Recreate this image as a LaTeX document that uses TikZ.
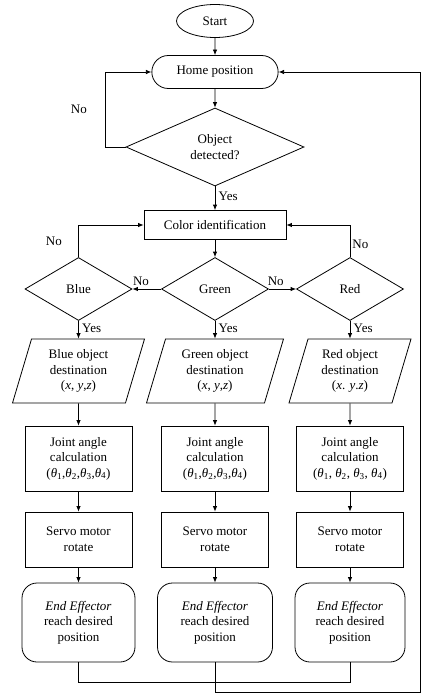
\documentclass[tikz,border=0pt]{standalone}
\usepackage{fontspec}
\setmainfont{Liberation Serif}
\usepackage{tikz}
\usetikzlibrary{arrows,arrows.meta}
\usetikzlibrary{positioning}
\usetikzlibrary{shapes.geometric,shapes.misc}

\newcommand{\tht}[1]{\textit{θ}\textsubscript{#1}}
\newcommand{\xyz}[1]{(\textit{x}#1 \textit{y}#1\textit{z})}

\begin{document}
\begin{tikzpicture}[-,>={Latex[length=5.5pt,width=4.5pt]},line width=0.8pt,
                    every node/.style={font=\rmfamily\fontsize{13}{15.5}\selectfont,align=center},
                    start node/.style={ellipse,draw,minimum width=77pt,minimum height=33pt},
                    home node/.style={rounded rectangle,draw,minimum width=133pt,minimum height=33pt},
                    box node/.style={rectangle,draw,minimum width=107pt},
                    dec node/.style={diamond,draw,inner sep=0pt,minimum width=107pt,minimum height=63pt},
                    io node/.style={trapezium,trapezium left angle=67,trapezium right angle=113,
                                    trapezium stretches body,draw,inner sep=1pt,minimum height=64pt},
                    end node/.style={rectangle,rounded corners=15pt,draw,
                                     minimum width=113pt,minimum height=79pt}]

  \useasboundingbox (0,0) rectangle (429pt,-699pt);

  \node[start node] (start) at (215pt,-21pt) {Start};
  \node[home node] (home) [below of=start,node distance=51pt] {Home position};
  \node[dec node,minimum width=178pt,minimum height=78pt] (detect) [below of=home,node distance=75pt] {Object\\detected?};
  \node[box node,minimum width=142pt,minimum height=29pt] (color) [below of=detect,node distance=78pt] {Color identification};

  \node[dec node] (green) [below of=color,node distance=64pt] {Green};
  \node[dec node] (blue) [left of=green,node distance=136.5pt] {Blue};
  \node[dec node] (red) [right of=green,node distance=135pt] {Red};

  \node[io node,minimum width=132pt] (bdest) [below of=blue,node distance=82pt] {Blue object\\destination\\\xyz{,}};
  \node[io node,minimum width=137pt] (gdest) [below of=green,node distance=82pt] {Green object\\destination\\\xyz{,}};
  \node[io node,minimum width=122pt] (rdest) [below of=red,node distance=82pt] {Red object\\destination\\\xyz{.}};

  \node[box node,minimum height=65pt] (bjoint) [below of=bdest,node distance=87.5pt] {Joint angle\\calculation\\(\tht1,\tht2,\tht3,\tht4)};
  \node[box node,minimum height=65pt] (gjoint) [below of=gdest,node distance=87.5pt] {Joint angle\\calculation\\(\tht1,\tht2,\tht3,\tht4)};
  \node[box node,minimum height=65pt] (rjoint) [below of=rdest,node distance=87.5pt] {Joint angle\\calculation\\(\tht1, \tht2, \tht3, \tht4)};

  \node[box node,minimum height=55pt] (bservo) [below of=bjoint,node distance=81pt] {Servo motor\\rotate};
  \node[box node,minimum height=55pt] (gservo) [below of=gjoint,node distance=81pt] {Servo motor\\rotate};
  \node[box node,minimum height=55pt] (rservo) [below of=rjoint,node distance=81pt] {Servo motor\\rotate};

  \node[end node] (bend) [below of=bservo,node distance=83pt] {\textit{End Effector}\\reach desired\\position};
  \node[end node,minimum width=115pt] (gend) [below of=gservo,node distance=83pt] {\textit{End Effector}\\reach desired\\position};
  \node[end node,minimum width=110pt] (rend) [below of=rservo,node distance=83pt] {\textit{End Effector}\\reach desired\\position};

  \coordinate (back) at (420pt,-692pt);

  \path[->]
    (start) edge (home)
    (home) edge (detect)
    (detect) edge node [right,pos=0.4] {Yes} (color)
    (color) edge (green)
    (green) edge node [above,pos=0.7] {No} (blue)
            edge node [above,pos=0.25] {No} (red)
    (blue) edge node [right,pos=0.4] {Yes} (bdest)
    (green) edge node [right,pos=0.4] {Yes} (gdest)
    (red) edge node [right,pos=0.4] {Yes} (rdest)
    (bdest) edge (bjoint)
    (gdest) edge (gjoint)
    (rdest) edge (rjoint)
    (bjoint) edge (bservo)
    (gjoint) edge (gservo)
    (rjoint) edge (rservo)
    (bservo) edge (bend)
    (gservo) edge (gend)
    (rservo) edge (rend)
;

  % loops back
  \draw[->] (detect.west) -- ++(-20pt,0) |- node [left=15pt,pos=0.25] {No} (home.west);
  \draw[->] (blue.north) |- node [left=13pt,pos=0.25] {No} (color.west);
  \draw[->] (red.north) |- node [right,pos=0.2,inner sep=2pt] {No} (color.east);
  \draw (bend.south) -- ++(0,-20pt) -| (rend.south);
  \draw[->] (gend.south) |- (back) |- (home.east);
\end{tikzpicture}
\end{document}
